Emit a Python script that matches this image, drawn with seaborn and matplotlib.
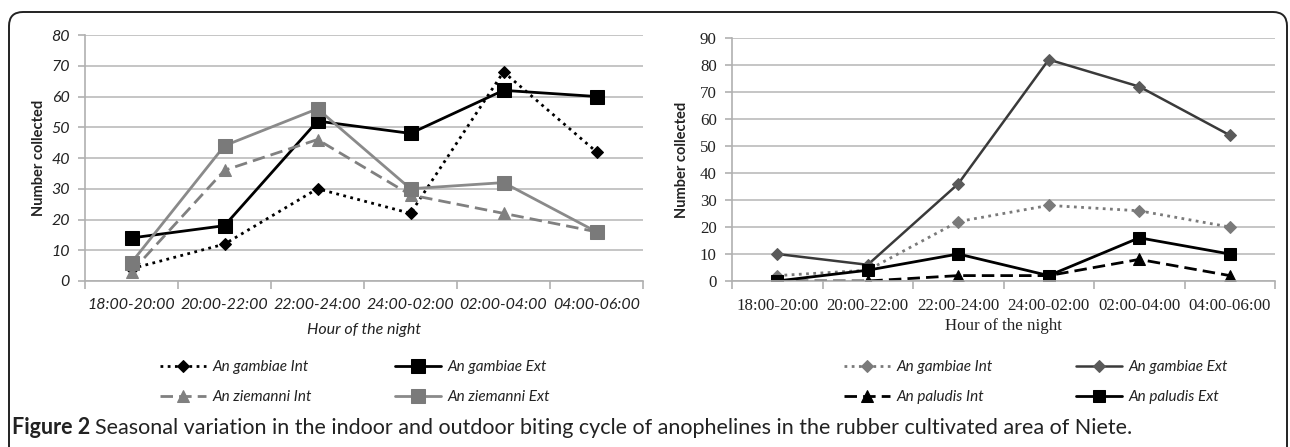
import matplotlib
matplotlib.use("Agg")
import matplotlib.pyplot as plt
import seaborn as sns
import pandas as pd
from matplotlib.patches import FancyBboxPatch
from matplotlib.ticker import FixedLocator
from matplotlib.font_manager import FontProperties

hours = ["18:00-20:00", "20:00-22:00", "22:00-24:00", "24:00-02:00", "02:00-04:00", "04:00-06:00"]

# Left panel
gambiae_int_L = [4, 12, 30, 22, 68, 42]
gambiae_ext_L = [14, 18, 52, 48, 62, 60]
ziemanni_int_L = [3, 36, 46, 28, 22, 16]
ziemanni_ext_L = [6, 44, 56, 30, 32, 16]

# Right panel
gambiae_int_R = [2, 4, 22, 28, 26, 20]
gambiae_ext_R = [10, 6, 36, 82, 72, 54]
paludis_int_R = [0, 0, 2, 2, 8, 2]
paludis_ext_R = [0, 4, 10, 2, 16, 10]

left_series = [
    ("An gambiae Int", gambiae_int_L, dict(color="black", linestyle=(0, (1, 1.6)), linewidth=2.0, marker="D", markersize=6.5, mfc="black", mec="black")),
    ("An gambiae Ext", gambiae_ext_L, dict(color="black", linestyle="-", linewidth=2.0, marker="s", markersize=9.5, mfc="black", mec="black")),
    ("An ziemanni Int", ziemanni_int_L, dict(color="#808080", linestyle=(0, (4.5, 2.2)), linewidth=2.0, marker="^", markersize=8, mfc="#808080", mec="#808080")),
    ("An ziemanni Ext", ziemanni_ext_L, dict(color="#8a8a8a", linestyle="-", linewidth=2.0, marker="s", markersize=9.5, mfc="#7a7a7a", mec="#7a7a7a")),
]
right_series = [
    ("An gambiae Int", gambiae_int_R, dict(color="#7a7a7a", linestyle=(0, (1, 1.6)), linewidth=2.0, marker="D", markersize=6.5, mfc="#7a7a7a", mec="#7a7a7a")),
    ("An gambiae Ext", gambiae_ext_R, dict(color="#3a3a3a", linestyle="-", linewidth=1.8, marker="D", markersize=6.5, mfc="#5a5a5a", mec="#5a5a5a")),
    ("An paludis Int", paludis_int_R, dict(color="black", linestyle=(0, (4.5, 2.2)), linewidth=2.0, marker="^", markersize=8, mfc="black", mec="black")),
    ("An paludis Ext", paludis_ext_R, dict(color="black", linestyle="-", linewidth=2.0, marker="s", markersize=9, mfc="black", mec="black")),
]

sns.set_theme(style="white")
plt.rcParams["font.family"] = ["Lato", "DejaVu Sans"]

fig = plt.figure(figsize=(12.9, 4.47), dpi=100)
W, H = 1290, 447

# rounded border (display/pixel coords)
border = FancyBboxPatch((9, -30), 1287 - 9, (H - 12) + 30,
                        boxstyle="round,pad=0,rounding_size=14", transform=None,
                        fill=False, edgecolor="#222222", linewidth=1.4, clip_on=False)
fig.patches.append(border)

axL = fig.add_axes([85 / W, 1 - 281 / H, 558 / W, (281 - 35) / H])
axR = fig.add_axes([732 / W, 1 - 281 / H, 543 / W, (281 - 38) / H])


def draw(ax, series, ymax, tickfont, xlabfont, xlabpad, ylabpad):
    for name, vals, st in series:
        df = pd.DataFrame({"hour": hours, "n": vals})
        sns.lineplot(data=df, x="hour", y="n", ax=ax, sort=False, label=name, **st)
    ax.set_xlim(-0.5, len(hours) - 0.5)
    ax.set_ylim(0, ymax)
    ax.set_yticks(range(0, ymax + 1, 10))
    ax.grid(axis="y", color="#c0c0c0", linewidth=1.3)
    ax.grid(axis="x", visible=False)
    ax.set_axisbelow(True)
    for s in ["top", "right"]:
        ax.spines[s].set_visible(False)
    for s in ["left", "bottom"]:
        ax.spines[s].set_color("#b0b0b0")
        ax.spines[s].set_linewidth(1.2)
    ax.xaxis.set_minor_locator(FixedLocator([i - 0.5 for i in range(len(hours) + 1)]))
    ax.tick_params(axis="x", which="major", length=0, pad=12)
    ax.tick_params(axis="x", which="minor", length=6, color="#b0b0b0", width=1.2, direction="out", bottom=True)
    ax.tick_params(axis="y", which="major", length=5, color="#b0b0b0", width=1.2, direction="out", left=True, pad=6)
    for lab in ax.get_xticklabels() + ax.get_yticklabels():
        lab.set_fontproperties(tickfont)
        lab.set_color("#222222")
    ax.set_xlabel("Hour of the night", fontproperties=xlabfont, color="#222222", labelpad=xlabpad)
    ax.set_ylabel("Number collected", family=["Lato", "DejaVu Sans"], fontweight="bold", fontsize=10.5,
                  color="#222222", labelpad=ylabpad)
    leg = ax.get_legend()
    if leg is not None:
        leg.remove()


tickL = FontProperties(family=["Lato", "DejaVu Sans"], style="italic", size=11.5)
xlabL = FontProperties(family=["Lato", "DejaVu Sans"], style="italic", size=11.5)
tickR = FontProperties(family=["Liberation Serif", "DejaVu Serif"], size=12.2)
xlabR = FontProperties(family=["Liberation Serif", "DejaVu Serif"], size=12.2)

draw(axL, left_series, 80, tickL, xlabL, 8, 4)
draw(axR, right_series, 90, tickR, xlabR, 3, 8)


def add_legend(ax, cx):
    h, l = ax.get_legend_handles_labels()
    order = [0, 2, 1, 3]
    fig.legend([h[i] for i in order], [l[i] for i in order], ncol=2, loc="center",
               bbox_to_anchor=(cx / W, 1 - 382 / H), frameon=False,
               prop=FontProperties(family=["Lato", "DejaVu Sans"], style="italic", size=11),
               handlelength=3.0, handletextpad=0.4, columnspacing=5.5, labelspacing=1.05,
               labelcolor="#222222")


add_legend(axL, 355)
add_legend(axR, 1036)

# caption
fig.canvas.draw()
r = fig.canvas.get_renderer()
t1 = fig.text(12 / W, 1 - 428 / H, "Figure 2", fontweight="bold", fontsize=15.5, va="center", ha="left",
              color="#222222", family=["Lato", "DejaVu Sans"])
bb = t1.get_window_extent(renderer=r)
fig.text((bb.x1 + 5) / W, 1 - 428 / H,
         "Seasonal variation in the indoor and outdoor biting cycle of anophelines in the rubber cultivated area of Niete.",
         fontsize=15.5, va="center", ha="left", color="#222222", family=["Lato", "DejaVu Sans"])

fig.savefig("out.png", dpi=100)
